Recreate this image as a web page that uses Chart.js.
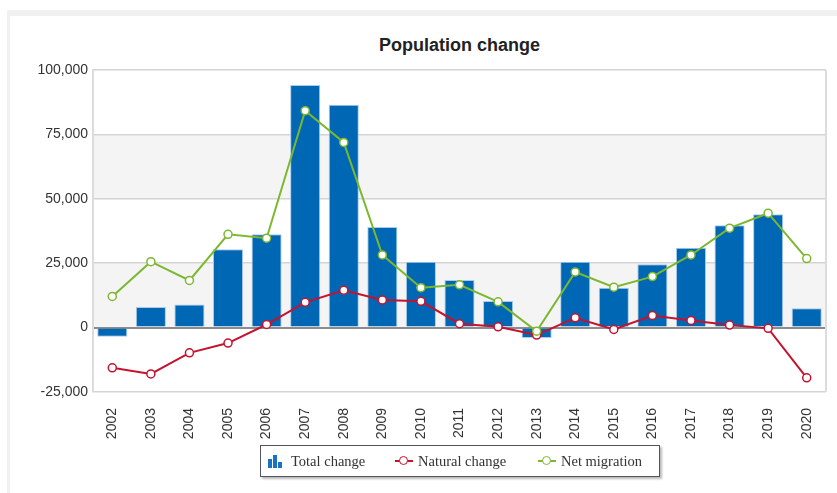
<!DOCTYPE html>
<html>
<head>
<meta charset="utf-8">
<script src="https://cdn.jsdelivr.net/npm/chart.js@4/dist/chart.umd.min.js"></script>
<style>
  body { margin: 0; background: #fff; width: 837px; height: 493px; overflow: hidden; position: relative; font-family: "Liberation Sans", Arial, sans-serif; }
  .frame { position: absolute; left: 7px; top: 10px; width: 840px; height: 500px; background: #f1f1f1; }
  .panel { position: absolute; left: 10px; top: 16px; width: 840px; height: 500px; background: #fff; }
  .title { position: absolute; left: 93px; width: 733px; top: 35px; text-align: center; font-weight: bold; font-size: 18px; color: #222; }
  .chart-wrap { position: absolute; left: 10px; top: 16px; width: 827px; height: 477px; }
  .legend { position: absolute; left: 260px; top: 445px; width: 400px; height: 32px; box-sizing: border-box;
            border: 1px solid #555; box-shadow: 2px 2px 2px #bbb; background: #fff;
            font-family: "Liberation Serif", "Times New Roman", serif; font-size: 14.5px; color: #333; }
  .legend .item { position: absolute; top: 0; height: 30px; line-height: 30px; white-space: nowrap; }
  .legend .ico { position: absolute; top: 0; height: 30px; }
  .bars span { position: absolute; bottom: 8px; width: 4px; background: #1a72c0; }
  .line { position: absolute; top: 14px; height: 2px; width: 18px; left: 0; }
  .dot { position: absolute; top: 10px; left: 4px; width: 7px; height: 7px; border-radius: 50%; background: #fff; border-width: 1.5px; border-style: solid; }
</style>
</head>
<body>
<div class="frame"></div>
<div class="panel"></div>
<div class="title">Population change</div>
<div class="chart-wrap"><canvas id="popChart"></canvas></div>
<div class="legend">
  <div class="ico bars" style="left:7px;width:16px;">
    <span style="left:0;height:9px;"></span>
    <span style="left:5px;height:13px;"></span>
    <span style="left:10px;height:6px;"></span>
  </div>
  <div class="item" style="left:30px;">Total change</div>
  <div class="ico" style="left:134px;width:18px;">
    <div class="line" style="background:#c4122f;"></div>
    <div class="dot" style="border-color:#c4122f;"></div>
  </div>
  <div class="item" style="left:157px;">Natural change</div>
  <div class="ico" style="left:277px;width:18px;">
    <div class="line" style="background:#7cb82f;"></div>
    <div class="dot" style="border-color:#7cb82f;"></div>
  </div>
  <div class="item" style="left:300px;">Net migration</div>
</div>
<script>
  const years = ["2002", "2003", "2004", "2005", "2006", "2007", "2008", "2009", "2010", "2011",
    "2012", "2013", "2014", "2015", "2016", "2017", "2018", "2019", "2020"];
  const totalChange = [-3600, 8000, 9000, 30400, 36200, 94200, 86500, 39100, 25600, 18500,
    10300, -4000, 25600, 15500, 24600, 31000, 39700, 44000, 7500];
  const naturalChange = [-15600, -18000, -9800, -6000, 1200, 9800, 14500, 10700, 10200, 1500,
    300, -2900, 3800, -700, 4700, 2800, 1000, -300, -19500];
  const netMigration = [12100, 25600, 18300, 36200, 34700, 84200, 71900, 28200, 15500, 16600,
    10000, -1400, 21600, 15700, 19800, 28200, 38600, 44400, 26800];

  const blue = "#0067b4";
  const red = "#c4122f";
  const green = "#7cb82f";

  // Alternating grey bands behind the grid, plus the light plot frame.
  const bandsPlugin = {
    id: "bands",
    beforeDraw(chart) {
      const { ctx, chartArea: a, scales: { y } } = chart;
      ctx.save();
      ctx.fillStyle = "#f4f4f4";
      [[0, 25000], [50000, 75000]].forEach(([lo, hi]) => {
        const top = y.getPixelForValue(hi);
        const bot = y.getPixelForValue(lo);
        ctx.fillRect(a.left, top, a.right - a.left, bot - top);
      });
      ctx.restore();
    },
    beforeDatasetsDraw(chart) {
      const { ctx, chartArea: a } = chart;
      ctx.save();
      ctx.strokeStyle = "#dcdcdc";
      ctx.lineWidth = 2;
      ctx.beginPath();
      ctx.moveTo(a.right, a.top);
      ctx.lineTo(a.right, a.bottom);
      ctx.stroke();
      ctx.restore();
    },
  };

  const pointStyle = (color) => ({
    type: "line",
    borderColor: color,
    backgroundColor: "#fff",
    pointBackgroundColor: "#fff",
    pointBorderColor: color,
    pointBorderWidth: 1.5,
    pointRadius: 4,
    borderWidth: 2,
    tension: 0,
    fill: false,
  });

  new Chart(document.getElementById("popChart"), {
    type: "bar",
    data: {
      labels: years,
      datasets: [
        { ...pointStyle(green), label: "Net migration", data: netMigration, order: 0 },
        { ...pointStyle(red), label: "Natural change", data: naturalChange, order: 1 },
        {
          type: "bar",
          label: "Total change",
          data: totalChange,
          backgroundColor: blue,
          borderColor: "#a9cbec",
          borderWidth: 1,
          barPercentage: 0.78,
          categoryPercentage: 1,
          order: 2,
        },
      ],
    },
    options: {
      responsive: true,
      maintainAspectRatio: false,
      animation: false,
      layout: { padding: { top: 54, right: 11, bottom: 41, left: 0 } },
      plugins: { legend: { display: false }, title: { display: false }, tooltip: { enabled: false } },
      scales: {
        x: {
          grid: { display: false },
          border: { display: false },
          ticks: {
            color: "#333",
            font: { family: "'Liberation Sans', Arial, sans-serif", size: 14 },
            minRotation: 90,
            maxRotation: 90,
            padding: 8,
            autoSkip: false,
          },
          afterFit: (scale) => { scale.height = 60; },
        },
        y: {
          min: -25000,
          max: 100000,
          border: { display: true, color: "#dcdcdc", width: 2 },
          grid: {
            drawTicks: false,
            color: (c) => (c.tick && c.tick.value === 0 ? "#8c8c8c" : "#d4d4d4"),
            lineWidth: (c) => (c.tick && c.tick.value === 0 ? 2 : 1.5),
          },
          ticks: {
            stepSize: 25000,
            color: "#333",
            padding: 5,
            font: { family: "'Liberation Sans', Arial, sans-serif", size: 14 },
            callback: (v) => v.toLocaleString("en-US"),
          },
          afterFit: (scale) => { scale.width = 83; },
        },
      },
    },
    plugins: [bandsPlugin],
  });
</script>
</body>
</html>
